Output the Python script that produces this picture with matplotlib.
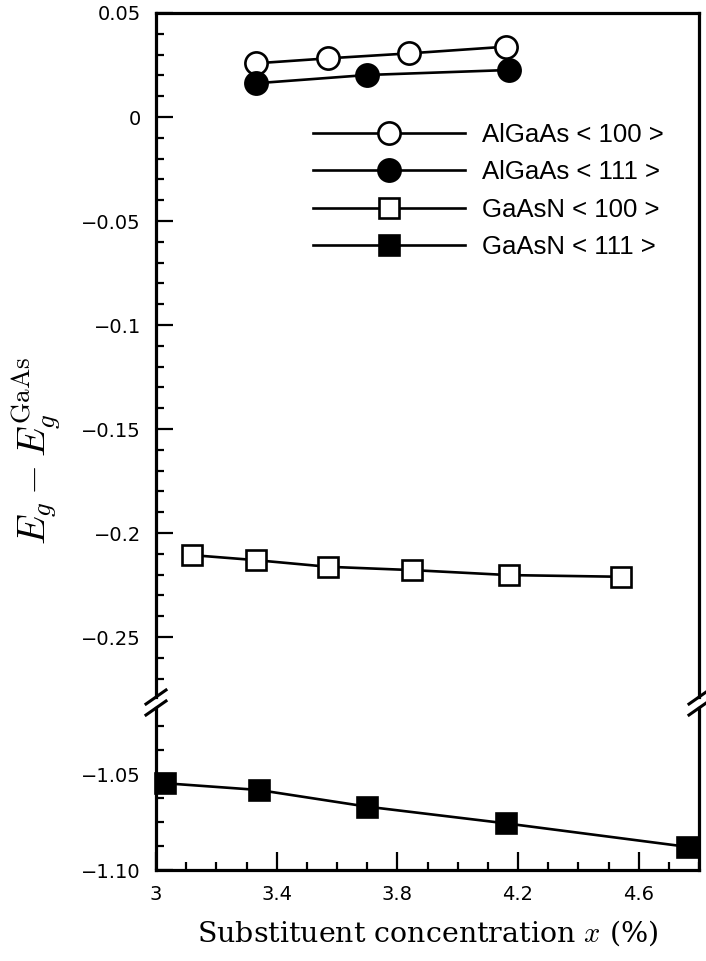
import matplotlib
matplotlib.use("Agg")
import matplotlib.pyplot as plt
from matplotlib.ticker import FixedLocator, MultipleLocator

# =========================
# Data
# =========================
algaas100_x = [3.33, 3.57, 3.84, 4.16]
algaas100_y = [0.0258, 0.0282, 0.0306, 0.0338]

algaas111_x = [3.33, 3.70, 4.17]
algaas111_y = [0.0162, 0.0202, 0.0226]

gaasn100_x = [3.12, 3.33, 3.57, 3.85, 4.17, 4.54]
gaasn100_y = [-0.2106, -0.2130, -0.2162, -0.2178, -0.2202, -0.2210]

gaasn111_x = [3.03, 3.34, 3.70, 4.16, 4.76]
gaasn111_y = [-1.0548, -1.0583, -1.0670, -1.0757, -1.0879]

labels = ["AlGaAs < 100 >", "AlGaAs < 111 >", "GaAsN < 100 >", "GaAsN < 111 >"]

upper_ticks = [0.05, 0.0, -0.05, -0.1, -0.15, -0.2, -0.25]
upper_ticklabels = ["0.05", "0", "\u22120.05", "\u22120.1", "\u22120.15", "\u22120.2", "\u22120.25"]
lower_ticks = [-1.05, -1.10]
lower_ticklabels = ["\u22121.05", "\u22121.10"]
x_ticks = [3.0, 3.4, 3.8, 4.2, 4.6]
x_ticklabels = ["3", "3.4", "3.8", "4.2", "4.6"]

# =========================
# Style
# =========================
plt.rcParams["font.family"] = "DejaVu Sans"
plt.rcParams["mathtext.fontset"] = "cm"

W, H = 706, 961
fig = plt.figure(figsize=(W / 100, H / 100), dpi=100)

left, right = 156, 699
up_top, up_bot = 13, 697
lo_top, lo_bot = 708, 870

ax_up = fig.add_axes([left / W, 1 - up_bot / H, (right - left) / W, (up_bot - up_top) / H])
ax_lo = fig.add_axes([left / W, 1 - lo_bot / H, (right - left) / W, (lo_bot - lo_top) / H])

lw_spine = 2.3
base = dict(markeredgewidth=1.9, color="black", linewidth=1.9, clip_on=False)
circ = dict(marker="o", markersize=16, **base)
sq = dict(marker="s", markersize=15, **base)

ax_up.plot(algaas100_x, algaas100_y, markerfacecolor="white", label=labels[0], **circ)
ax_up.plot(algaas111_x, algaas111_y, markerfacecolor="black", label=labels[1], **circ)
ax_up.plot(gaasn100_x, gaasn100_y, markerfacecolor="white", label=labels[2], **sq)
ax_lo.plot(gaasn111_x, gaasn111_y, markerfacecolor="black", **sq)
# proxy for legend entry of the lower-panel series
ax_up.plot([], [], markerfacecolor="black", label=labels[3], **sq)

xlim = (3.0, 4.80)
ax_up.set_xlim(*xlim)
ax_lo.set_xlim(*xlim)
ax_up.set_ylim(-0.2788, 0.05)
ax_lo.set_ylim(-1.10, -1.0156)

for ax in (ax_up, ax_lo):
    for s in ax.spines.values():
        s.set_linewidth(lw_spine)
    ax.tick_params(which="both", direction="in", top=False, right=False, width=1.6,
                   labelsize=14, pad=11)
    ax.tick_params(which="major", length=12)
    ax.tick_params(which="minor", length=5.5)

ax_up.spines["bottom"].set_visible(False)
ax_lo.spines["top"].set_visible(False)
ax_up.tick_params(which="both", bottom=False, labelbottom=False)

ax_up.yaxis.set_major_locator(FixedLocator(upper_ticks))
ax_up.set_yticklabels(upper_ticklabels)
ax_up.yaxis.set_minor_locator(MultipleLocator(0.01))

ax_lo.yaxis.set_major_locator(FixedLocator(lower_ticks))
ax_lo.set_yticklabels(lower_ticklabels)
ax_lo.yaxis.set_minor_locator(MultipleLocator(0.0125))

ax_lo.xaxis.set_major_locator(FixedLocator(x_ticks))
ax_lo.set_xticklabels(x_ticklabels)
ax_lo.xaxis.set_minor_locator(MultipleLocator(0.1))
ax_lo.tick_params(axis="x", which="major", length=13)
ax_lo.tick_params(axis="x", which="minor", length=6)

ax_lo.set_xlabel("Substituent concentration $x$ (%)", family="DejaVu Serif",
                 fontsize=20.5, labelpad=10)

fig.text(36 / W, 1 - 451 / H, r"$E_g - E_g^{\mathrm{GaAs}}$", rotation=90,
         ha="center", va="center", fontsize=28)

# break marks on both spines
dx, dy = 10 / (right - left), 7
for ax, yfrac in ((ax_up, 0.0), (ax_lo, 1.0)):
    h = dy / ((up_bot - up_top) if ax is ax_up else (lo_bot - lo_top))
    for xf in (0.0, 1.0):
        ax.plot([xf - dx, xf + dx], [yfrac - h, yfrac + h], transform=ax.transAxes,
                color="black", linewidth=2.2, clip_on=False)

ax_up.legend(loc="upper left",
             bbox_to_anchor=((313 - left) / (right - left), 1 - 110 / (up_bot - up_top)),
             frameon=False, prop={"family": "Liberation Sans", "size": 18.5},
             handlelength=5.9, handletextpad=0.66, labelspacing=0.52,
             borderpad=0, borderaxespad=0, numpoints=1)

fig.savefig("out.png", dpi=100)
